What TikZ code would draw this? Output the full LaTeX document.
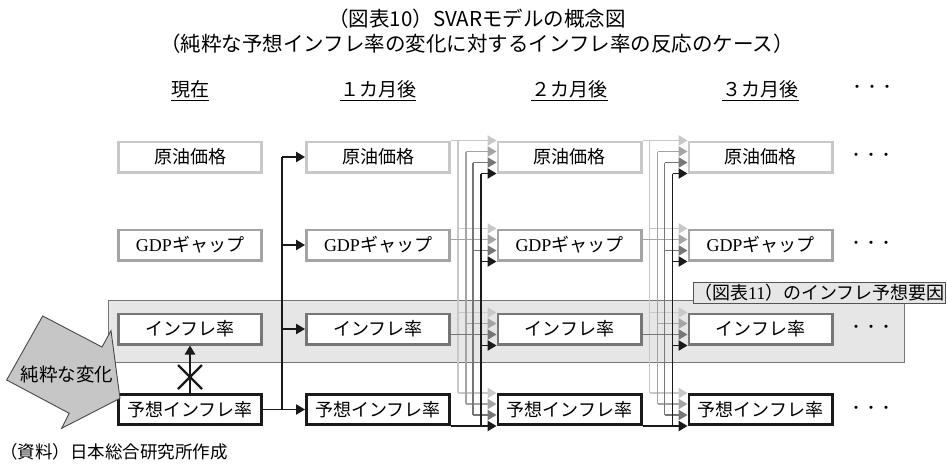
\documentclass[tikz,border=0pt]{standalone}
\usepackage{fontspec}
\setmainfont{Noto Sans CJK JP}
\newfontfamily\lserif{Liberation Serif}
\usetikzlibrary{arrows.meta,calc}
\definecolor{cA}{HTML}{C8C8C8}
\definecolor{cB}{HTML}{A4A4A4}
\definecolor{cC}{HTML}{767676}
\definecolor{cD}{HTML}{1A1A1A}
\definecolor{bandfill}{HTML}{E6E6E6}
\definecolor{arrowfill}{HTML}{C6C6C6}
\begin{document}
\begin{tikzpicture}[x=1pt,y=-1pt,
  cellbox/.style={draw, fill=white, line width=2.6pt, minimum width=143.4pt, minimum height=30.4pt, inner sep=0pt, font=\fontsize{18}{20}\selectfont},
  rowA/.style={cellbox, draw=cA},
  rowB/.style={cellbox, draw=cB},
  rowC/.style={cellbox, draw=cC},
  rowD/.style={cellbox, draw=cD},
  conn/.style={line width=1.1pt},
  arrowtip/.style={-{Triangle[length=9pt,width=10.5pt]}},
  hdr/.style={inner sep=0pt, font=\fontsize{19}{21}\selectfont},
  dots/.style={inner sep=0pt, font=\fontsize{15}{17}\selectfont},
  ttl/.style={inner sep=0pt, font=\fontsize{20.5}{23}\selectfont},
]
\useasboundingbox (0,0) rectangle (947,468);

% titles
\node[ttl] (t1) at (477,19) {（図表10）SVARモデルの概念図};
\node[ttl] (t2) at (477,44) {（純粋な予想インフレ率の変化に対するインフレ率の反応のケース）};

% band
\node[draw=cC, fill=bandfill, line width=1pt, minimum width=796pt, minimum height=62pt, inner sep=0pt, anchor=north west] (band) at (108,300) {};

% headers
\foreach \c/\x/\t in {0/190/現在,1/378/１カ月後,2/569.5/２カ月後,3/760.5/３カ月後}{
  \node[hdr] (h\c) at (\x,89) {\t};
  \draw[line width=0.8pt] ($(h\c.south west)+(0,2.5)$) -- ($(h\c.south east)+(0,2.5)$);
}
\node[dots] (hd) at (872,89) {・・・};

% boxes
\foreach \c/\x in {0/190,1/378,2/569.5,3/760.5}{
  \node[rowA] (n\c1) at (\x,157) {原油価格};
  \node[rowB] (n\c2) at (\x,245) {{\lserif GDP}ギャップ};
  \node[rowC] (n\c3) at (\x,329) {インフレ率};
  \node[rowD] (n\c4) at (\x,409.5) {予想インフレ率};
}
\foreach \r/\y in {1/157,2/245,3/329,4/409.5}{
  \node[dots] (d\r) at (871,\y) {・・・};
}

% connectors now -> 1 month
\coordinate (K0) at ($(n04.east)+(19,0)$);
\draw[conn,cD,arrowtip] (n04.east) -- (n14.west);
\draw[conn,cD] (K0) -- (K0 |- n11.west);
\foreach \j in {1,2,3}{
  \draw[conn,cD,arrowtip] (K0 |- n1\j.west) -- (n1\j.west);
}

% connectors 1->2 and 2->3
\foreach \g/\h in {1/2,2/3}{
  \foreach \k/\col/\dx in {1/cA/7,2/cB/15,3/cC/22,4/cD/30}{
    \pgfmathsetmacro\f{(\k-1)/3}
    \coordinate (S) at ($(n\g\k.north east)!\f!(n\g\k.south east)$);
    \coordinate (K) at ($(S)+(\dx,0)$);
    \foreach \j in {1,2,3,4}{
      \coordinate (T\j) at ($(n\h\j.north west)!\f!(n\h\j.south west)$);
    }
    \draw[conn,\col] (S) -- (K);
    \draw[conn,\col] (K |- T1) -- (K |- T4);
    \foreach \j in {1,2,3,4}{
      \draw[conn,\col,arrowtip] (K |- T\j) -- (T\j);
    }
  }
}

% blocked link
\draw[conn,cD,arrowtip] (n04.north) -- (n03.south);
\coordinate (X) at (190,377);
\draw[line width=2.2pt,cD] ($(X)+(-12,-12)$) -- ($(X)+(12,12)$) ($(X)+(-12,12)$) -- ($(X)+(12,-12)$);

% label
\node[draw=cC!70!black, fill=bandfill, line width=1.1pt, minimum width=252pt, minimum height=21pt, inner sep=0pt, anchor=north east, font=\fontsize{18}{20}\selectfont] (lab) at (946,281.5) {（図表{\lserif 11}）のインフレ予想要因};

% big arrow
\draw[fill=arrowfill, draw=cD!80, line width=0.9pt, line join=miter]
  (42.7,316) -- (102,347) -- (111,330.7) -- (120,398.3) -- (61.7,428.3) -- (69.2,413.3) -- (6.7,380) -- cycle;
\node[inner sep=0pt, font=\fontsize{18.5}{20}\selectfont] (pure) at (67,374) {純粋な変化};

% source
\node[inner sep=0pt, anchor=west, font=\fontsize{17.5}{19}\selectfont] (src) at (0,452) {（資料）日本総合研究所作成};
\end{tikzpicture}
\end{document}
